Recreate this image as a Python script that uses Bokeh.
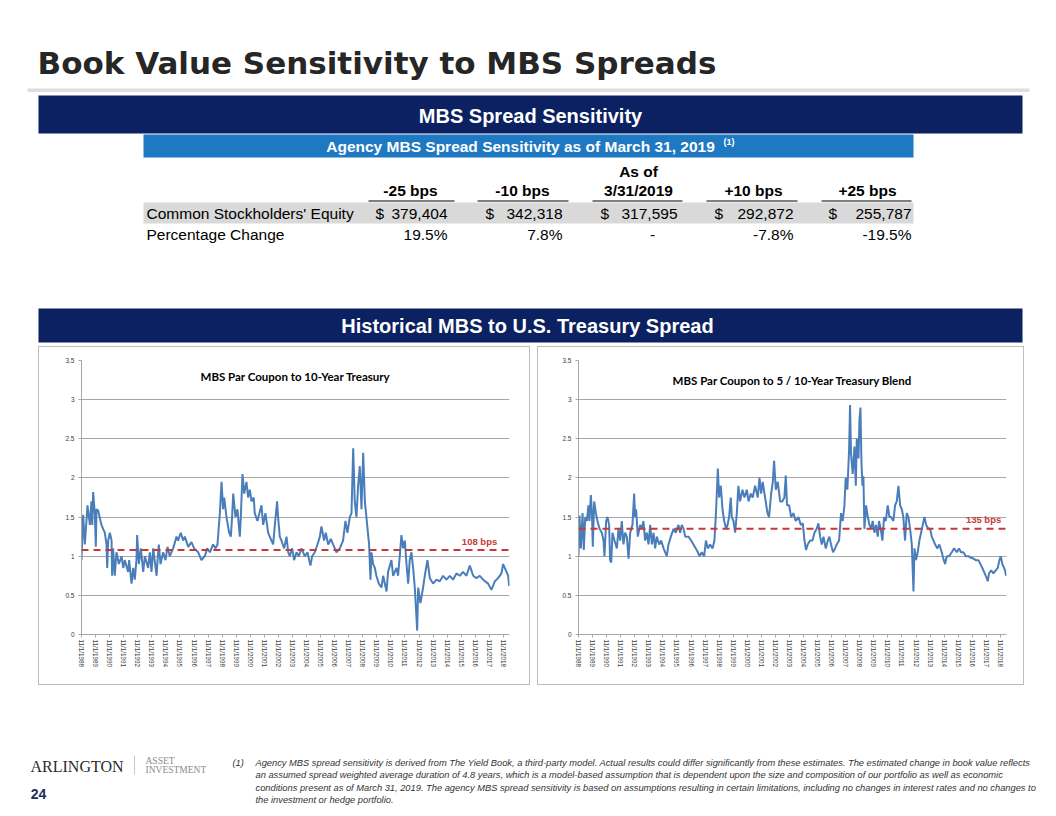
from bokeh.plotting import figure
from bokeh.layouts import column, row
from bokeh.models import Spacer, Range1d, FixedTicker, NumeralTickFormatter, Span
from bokeh.core.properties import value
from bokeh.embed import file_html
from bokeh.resources import INLINE

# ---------------- data ----------------
scenarios = ["-25 bps", "-10 bps", "3/31/2019", "+10 bps", "+25 bps"]
equity = [379404, 342318, 317595, 292872, 255787]
pct_change = [19.5, 7.8, None, -7.8, -19.5]

tick_years = list(range(1988, 2019))
tick_labels = ["11/1/1988", "11/1/1989", "11/1/1990", "11/1/1991", "11/1/1992", "11/1/1993",
               "11/1/1994", "11/1/1995", "11/1/1996", "11/1/1997", "11/1/1998", "11/1/1999",
               "11/1/2000", "11/1/2001", "11/1/2002", "11/1/2003", "11/1/2004", "11/1/2005",
               "11/1/2006", "11/1/2007", "11/1/2008", "11/1/2009", "11/1/2010", "11/1/2011",
               "11/1/2012", "11/1/2013", "11/1/2014", "11/1/2015", "11/1/2016", "11/1/2017",
               "11/1/2018"]
y_ticks = [0, 0.5, 1, 1.5, 2, 2.5, 3, 3.5]

# MBS par coupon to 10-year Treasury (date as decimal year, spread in %)
t10_dates = [1988.83, 1988.95, 1989.07, 1989.26, 1989.43, 1989.54, 1989.60, 1989.66, 1989.78, 1989.85,
             1989.90, 1990.02, 1990.25, 1990.37, 1990.49, 1990.61, 1990.66, 1990.73, 1990.85, 1990.97,
             1991.01, 1991.08, 1991.20, 1991.32, 1991.49, 1991.68, 1991.80, 1991.91, 1992.15, 1992.22,
             1992.39, 1992.51, 1992.62, 1992.74, 1992.79, 1992.91, 1993.05, 1993.22, 1993.34, 1993.57,
             1993.69, 1993.81, 1993.93, 1994.17, 1994.24, 1994.33, 1994.45, 1994.64, 1994.80, 1994.95,
             1995.11, 1995.23, 1995.35, 1995.59, 1995.70, 1995.89, 1996.06, 1996.18, 1996.42, 1996.65,
             1996.84, 1997.13, 1997.36, 1997.60, 1997.77, 1997.96, 1998.19, 1998.36, 1998.50, 1998.67,
             1998.79, 1998.90, 1998.98, 1999.14, 1999.33, 1999.45, 1999.54, 1999.62, 1999.78, 1999.92,
             2000.09, 2000.16, 2000.28, 2000.40, 2000.56, 2000.68, 2000.80, 2000.92, 2001.08, 2001.15,
             2001.34, 2001.63, 2001.75, 2001.91, 2002.10, 2002.34, 2002.46, 2002.58, 2002.74, 2002.81,
             2002.93, 2003.05, 2003.24, 2003.41, 2003.53, 2003.64, 2003.81, 2003.95, 2004.12, 2004.28,
             2004.47, 2004.71, 2004.90, 2005.02, 2005.11, 2005.23, 2005.42, 2005.61, 2005.78, 2005.89,
             2006.08, 2006.20, 2006.37, 2006.56, 2006.72, 2006.96, 2007.20, 2007.43, 2007.60, 2007.74,
             2007.91, 2008.03, 2008.15, 2008.26, 2008.38, 2008.50, 2008.62, 2008.74, 2008.86, 2008.98,
             2009.09, 2009.17, 2009.28, 2009.38, 2009.45, 2009.57, 2009.69, 2009.80, 2009.97, 2010.16,
             2010.28, 2010.52, 2010.63, 2010.87, 2010.99, 2011.23, 2011.34, 2011.46, 2011.58, 2011.70,
             2011.82, 2011.94, 2012.06, 2012.17, 2012.29, 2012.41, 2012.53, 2012.70, 2012.77, 2012.93,
             2013.12, 2013.24, 2013.43, 2013.60, 2013.83, 2014.07, 2014.31, 2014.54, 2014.78, 2015.02,
             2015.25, 2015.49, 2015.73, 2015.96, 2016.20, 2016.44, 2016.68, 2016.91, 2017.15, 2017.39,
             2017.74, 2017.98, 2018.22, 2018.45, 2018.69, 2018.81, 2019.05, 2019.17, 2019.24]
t10_spread = [0.95, 1.53, 1.15, 1.65, 1.40, 1.70, 1.40, 1.82, 1.55, 1.12,
              1.60, 1.58, 1.40, 1.35, 1.30, 1.15, 0.85, 1.20, 1.30, 1.20,
              0.75, 1.10, 0.75, 1.05, 0.90, 1.00, 0.85, 0.95, 0.80, 0.95,
              0.65, 0.85, 0.70, 0.95, 1.27, 0.90, 1.10, 0.80, 1.00, 0.85,
              1.05, 0.80, 1.10, 0.75, 0.95, 1.15, 0.90, 1.05, 0.95, 1.12,
              1.00, 1.05, 1.10, 1.25, 1.20, 1.30, 1.20, 1.25, 1.12, 1.18,
              1.10, 1.05, 0.95, 1.00, 1.10, 1.05, 1.15, 1.10, 1.15, 1.55,
              1.95, 1.60, 1.75, 1.50, 1.30, 1.25, 1.50, 1.80, 1.50, 1.60,
              1.25, 1.50, 2.05, 1.80, 1.95, 1.75, 1.85, 1.70, 1.75, 1.55,
              1.45, 1.65, 1.40, 1.55, 1.30, 1.20, 1.15, 1.40, 1.70, 1.50,
              1.25, 1.20, 1.10, 1.25, 1.05, 1.00, 1.10, 0.95, 1.05, 1.00,
              1.10, 1.00, 1.05, 0.95, 0.88, 1.00, 1.05, 1.15, 1.25, 1.38,
              1.20, 1.30, 1.15, 1.22, 1.15, 1.05, 1.10, 1.20, 1.45, 1.30,
              1.50, 1.55, 2.38, 1.70, 1.50, 1.90, 2.15, 1.60, 2.32, 1.70,
              1.50, 1.35, 1.15, 0.70, 1.05, 0.90, 0.85, 0.75, 0.65, 0.60,
              0.75, 0.55, 0.80, 0.95, 0.75, 0.85, 0.75, 1.00, 1.27, 1.10,
              1.20, 0.90, 0.65, 0.95, 1.05, 0.85, 0.60, 0.05, 0.60, 0.40,
              0.60, 0.75, 0.95, 0.72, 0.65, 0.70, 0.68, 0.75, 0.70, 0.75,
              0.70, 0.78, 0.75, 0.80, 0.75, 0.88, 0.75, 0.72, 0.75, 0.70,
              0.65, 0.57, 0.68, 0.72, 0.78, 0.90, 0.80, 0.75, 0.62]

# MBS par coupon to 5 / 10-year Treasury blend
blend_dates = [1988.83, 1988.90, 1989.00, 1989.12, 1989.21, 1989.31, 1989.43, 1989.54, 1989.61, 1989.71,
               1989.78, 1989.85, 1989.95, 1990.07, 1990.18, 1990.33, 1990.49, 1990.61, 1990.68, 1990.80,
               1990.89, 1991.01, 1991.08, 1991.16, 1991.25, 1991.39, 1991.56, 1991.68, 1991.80, 1991.91,
               1992.03, 1992.15, 1992.27, 1992.39, 1992.51, 1992.67, 1992.79, 1992.86, 1992.93, 1993.05,
               1993.22, 1993.34, 1993.45, 1993.57, 1993.69, 1993.81, 1993.93, 1994.05, 1994.17, 1994.28,
               1994.40, 1994.57, 1994.71, 1994.88, 1995.11, 1995.23, 1995.40, 1995.59, 1995.75, 1995.94,
               1996.06, 1996.18, 1996.30, 1996.42, 1996.65, 1996.84, 1997.01, 1997.17, 1997.32, 1997.43,
               1997.60, 1997.77, 1997.89, 1998.03, 1998.19, 1998.36, 1998.50, 1998.62, 1998.74, 1998.83,
               1998.95, 1999.07, 1999.19, 1999.33, 1999.43, 1999.54, 1999.66, 1999.73, 1999.85, 1999.97,
               2000.09, 2000.20, 2000.32, 2000.49, 2000.63, 2000.80, 2000.92, 2001.08, 2001.22, 2001.39,
               2001.58, 2001.70, 2001.82, 2001.93, 2002.10, 2002.27, 2002.38, 2002.53, 2002.65, 2002.74,
               2002.86, 2003.00, 2003.17, 2003.33, 2003.47, 2003.57, 2003.66, 2003.81, 2003.95, 2004.11,
               2004.28, 2004.47, 2004.64, 2004.78, 2004.90, 2005.01, 2005.13, 2005.30, 2005.47, 2005.61,
               2005.77, 2005.89, 2006.01, 2006.13, 2006.25, 2006.41, 2006.56, 2006.67, 2006.79, 2006.93,
               2007.08, 2007.19, 2007.36, 2007.50, 2007.62, 2007.74, 2007.83, 2007.95, 2008.07, 2008.14,
               2008.21, 2008.33, 2008.45, 2008.55, 2008.62, 2008.74, 2008.81, 2008.88, 2008.95, 2009.02,
               2009.09, 2009.16, 2009.28, 2009.40, 2009.52, 2009.64, 2009.75, 2009.87, 2009.99, 2010.11,
               2010.20, 2010.32, 2010.44, 2010.56, 2010.68, 2010.82, 2010.94, 2011.06, 2011.22, 2011.34,
               2011.46, 2011.58, 2011.70, 2011.82, 2011.93, 2012.05, 2012.17, 2012.29, 2012.41, 2012.53,
               2012.65, 2012.72, 2012.83, 2012.95, 2013.07, 2013.19, 2013.31, 2013.43, 2013.55, 2013.71,
               2013.83, 2013.95, 2014.07, 2014.19, 2014.35, 2014.49, 2014.66, 2014.80, 2014.90, 2015.01,
               2015.18, 2015.37, 2015.54, 2015.73, 2015.89, 2016.03, 2016.20, 2016.37, 2016.56, 2016.74,
               2016.91, 2017.08, 2017.27, 2017.46, 2017.62, 2017.79, 2017.93, 2018.02, 2018.17, 2018.33,
               2018.50, 2018.64, 2018.76, 2018.85, 2018.97, 2019.09, 2019.16, 2019.23]
blend_spread = [1.00, 1.52, 1.10, 1.55, 1.08, 1.50, 1.45, 1.65, 1.45, 1.78,
                1.60, 1.12, 1.70, 1.55, 1.45, 1.35, 1.30, 1.20, 1.00, 1.45,
                1.50, 1.40, 0.95, 0.92, 1.30, 1.20, 1.10, 1.35, 1.20, 1.45,
                1.15, 1.30, 1.25, 0.97, 1.30, 1.40, 1.80, 1.50, 1.60, 1.25,
                1.40, 1.35, 1.45, 1.20, 1.30, 1.15, 1.40, 1.15, 1.30, 1.10,
                1.25, 1.15, 1.20, 1.10, 1.00, 1.15, 1.25, 1.35, 1.30, 1.40,
                1.30, 1.40, 1.35, 1.25, 1.25, 1.20, 1.15, 1.10, 1.05, 1.00,
                1.05, 1.00, 1.20, 1.10, 1.15, 1.10, 1.20, 1.60, 2.12, 1.75,
                1.90, 1.60, 1.45, 1.35, 1.40, 1.50, 1.75, 1.50, 1.45, 1.30,
                1.55, 1.90, 1.70, 1.85, 1.75, 1.85, 1.70, 1.80, 1.75, 1.90,
                1.75, 2.00, 1.80, 1.95, 1.75, 1.55, 1.50, 1.80, 1.95, 2.22,
                1.85, 1.95, 1.70, 1.70, 1.75, 2.03, 1.65, 1.65, 1.50, 1.55,
                1.45, 1.50, 1.40, 1.42, 1.20, 1.08, 1.15, 1.20, 1.20, 1.30,
                1.35, 1.42, 1.25, 1.15, 1.25, 1.10, 1.20, 1.25, 1.15, 1.05,
                1.10, 1.15, 1.20, 1.55, 1.45, 1.65, 2.00, 1.85, 2.35, 2.93,
                2.30, 2.05, 2.40, 1.90, 2.50, 2.25, 2.75, 2.90, 2.20, 1.90,
                2.02, 1.35, 1.65, 1.50, 1.40, 1.35, 1.45, 1.30, 1.40, 1.25,
                1.45, 1.35, 1.20, 1.50, 1.45, 1.65, 1.50, 1.50, 1.45, 1.65,
                1.70, 1.90, 1.65, 1.60, 1.50, 1.20, 1.55, 1.50, 1.35, 1.15,
                0.55, 1.10, 0.95, 1.05, 1.20, 1.30, 1.40, 1.50, 1.40, 1.35,
                1.35, 1.25, 1.20, 1.15, 1.10, 1.15, 1.05, 0.95, 0.90, 1.00,
                1.00, 1.05, 1.10, 1.05, 1.10, 1.05, 1.05, 1.00, 1.00, 0.98,
                0.97, 0.95, 0.95, 0.88, 0.82, 0.75, 0.68, 0.78, 0.82, 0.78,
                0.82, 0.85, 0.95, 1.00, 0.90, 0.85, 0.82, 0.75]

average_bps = [108, 135]
chart_titles = ["MBS Par Coupon to 10-Year Treasury", "MBS Par Coupon to 5 / 10-Year Treasury Blend"]

footnote_lines = [
    "Agency MBS spread sensitivity is derived from  The Yield Book, a third-party model.  Actual results could differ significantly from these estimates.  The estimated change in book value reflects",
    "an assumed  spread  weighted average  duration of 4.8 years, which is a model-based  assumption  that is dependent  upon the size and composition  of our portfolio as well as economic",
    "conditions present as of March 31, 2019.  The agency MBS spread  sensitivity is based on assumptions  resulting in certain limitations,  including no changes in interest rates and no changes to",
    "the investment or hedge portfolio.",
]

# ---------------- style ----------------
W = 1056
SANS = value("Liberation Sans")
WIDE = value("DejaVu Sans")
SERIF = value("Liberation Serif")
CAL = value("Lato")
NAVY = "#0B2161"
BLUE = "#1E78C2"
LINE_BLUE = "#4A7EBB"
RED = "#C8373A"
GRID = "#A6A6A6"


def deco(height, y0):
    p = figure(width=W, height=height, x_range=Range1d(0, W), y_range=Range1d(y0 + height, y0),
               x_axis_location=None, y_axis_location=None, toolbar_location=None,
               output_backend="svg", min_border=0, outline_line_color=None)
    p.min_border_left = p.min_border_right = p.min_border_top = p.min_border_bottom = 0
    p.grid.visible = False
    p.background_fill_color = "white"
    p.border_fill_color = "white"
    return p


# ---------------- top part of slide ----------------
top = deco(346, 0)
top.text(x=[37], y=[62], text=["Book Value Sensitivity to MBS Spreads"], text_font=WIDE,
         text_font_size="31px", text_font_style="bold", text_color="#262626",
         text_baseline="middle", text_align="left")
top.quad(left=[27], right=[1029], top=[88], bottom=[91.5], fill_color="#DEDEDE", line_color=None)
top.quad(left=[38], right=[1022], top=[95], bottom=[133], fill_color=NAVY, line_color=None)
top.text(x=[530], y=[115], text=["MBS Spread Sensitivity"], text_font=SANS, text_font_size="20px",
         text_font_style="bold", text_color="white", text_baseline="middle", text_align="center")
top.quad(left=[143], right=[913], top=[134], bottom=[157], fill_color=BLUE, line_color=None)
top.text(x=[520], y=[146], text=["Agency MBS Spread Sensitivity as of March 31, 2019"], text_font=SANS,
         text_font_size="15.5px", text_font_style="bold", text_color="white",
         text_baseline="middle", text_align="center")
top.text(x=[723], y=[141], text=["(1)"], text_font=SANS, text_font_size="9px", text_font_style="bold",
         text_color="white", text_baseline="middle", text_align="left")

col_centers = [410, 522, 638, 753, 867]
col_left = [368, 477, 592, 706, 821]
col_right = [454, 568, 682, 797, 911]
num_right = [447, 562, 677, 793, 911]
dollar_x = [375, 485, 600, 714, 828]

# column headers
top.text(x=[col_centers[2]], y=[171], text=["As of"], text_font=SANS, text_font_size="15.5px",
         text_font_style="bold", text_color="black", text_baseline="middle", text_align="center")
top.text(x=col_centers, y=[190] * 5, text=scenarios, text_font=SANS, text_font_size="15.5px",
         text_font_style="bold", text_color="black", text_baseline="middle", text_align="center")
top.segment(x0=col_left, x1=col_right, y0=[200.5] * 5, y1=[200.5] * 5, line_color="black", line_width=1)

# equity row
top.quad(left=[143], right=[913], top=[202], bottom=[223], fill_color="#D9D9D9", line_color=None)
top.text(x=[146], y=[213], text=["Common Stockholders' Equity"], text_font=SANS, text_font_size="15.5px",
         text_color="black", text_baseline="middle", text_align="left")
top.text(x=dollar_x, y=[213] * 5, text=["$"] * 5, text_font=SANS, text_font_size="15.5px",
         text_color="black", text_baseline="middle", text_align="left")
top.text(x=num_right, y=[213] * 5, text=[f"{v:,}" for v in equity], text_font=SANS,
         text_font_size="15.5px", text_color="black", text_baseline="middle", text_align="right")

# percentage row
top.text(x=[146], y=[234], text=["Percentage Change"], text_font=SANS, text_font_size="15.5px",
         text_color="black", text_baseline="middle", text_align="left")
pct_x = [num_right[i] if v is not None else 652 for i, v in enumerate(pct_change)]
pct_txt = [f"{v:.1f}%" if v is not None else "-" for v in pct_change]
pct_align = ["right" if v is not None else "center" for v in pct_change]
top.text(x=pct_x, y=[234] * 5, text=pct_txt, text_font=SANS, text_font_size="15.5px",
         text_color="black", text_baseline="middle", text_align=pct_align)

# second banner
top.quad(left=[38], right=[1022], top=[308], bottom=[342], fill_color=NAVY, line_color=None)
top.text(x=[527], y=[325], text=["Historical MBS to U.S. Treasury Spread"], text_font=SANS,
         text_font_size="20px", text_font_style="bold", text_color="white",
         text_baseline="middle", text_align="center")


# ---------------- charts ----------------
X0, X1 = 1988.0, 2018.43   # axis: first category 11/1/1988 ... end of data (Mar 2019)


def chart(width, bl, br, dates, spreads, title, title_y, bps, lab_x, lab_y):
    p = figure(width=width, height=339, x_range=Range1d(X0, X1), y_range=Range1d(0, 3.5),
               toolbar_location=None, output_backend="svg", outline_line_color=None,
               min_border_left=bl, min_border_right=br, min_border_top=13, min_border_bottom=52,
               styles={"border": "1px solid #BDBDBD", "box-sizing": "border-box"})
    p.background_fill_color = "white"
    p.border_fill_color = "white"
    p.xgrid.visible = False
    p.ygrid.grid_line_color = GRID
    p.ygrid.grid_line_width = 1
    p.ygrid.ticker = FixedTicker(ticks=y_ticks)

    p.yaxis.ticker = FixedTicker(ticks=y_ticks)
    p.yaxis.formatter = NumeralTickFormatter(format="0.[0]")
    p.yaxis.major_label_text_font = "Liberation Sans"
    p.yaxis.major_label_text_font_size = "6.5px"
    p.yaxis.major_label_text_color = "#404040"
    p.yaxis.axis_line_color = GRID
    p.yaxis.major_tick_line_color = GRID
    p.yaxis.major_tick_out = 3
    p.yaxis.major_tick_in = 0
    p.yaxis.minor_tick_line_color = None
    p.yaxis.major_label_standoff = 4

    p.xaxis.ticker = FixedTicker(ticks=tick_years)
    p.xaxis.major_label_overrides = {y: lab for y, lab in zip(tick_years, tick_labels)}
    p.xaxis.major_label_orientation = "vertical"
    p.xaxis.major_label_text_font = "Liberation Sans"
    p.xaxis.major_label_text_font_size = "6.3px"
    p.xaxis.major_label_text_color = "#404040"
    p.xaxis.axis_line_color = GRID
    p.xaxis.major_tick_line_color = GRID
    p.xaxis.major_tick_out = 3
    p.xaxis.major_tick_in = 0
    p.xaxis.minor_tick_line_color = None
    p.xaxis.major_label_standoff = 2

    # categories are dated 11/1 of each year: shift so that 11/1/YYYY falls on YYYY
    xs = [d - 10 / 12 for d in dates]
    p.line(xs, spreads, line_color=LINE_BLUE, line_width=2)

    avg = bps / 100
    p.add_layout(Span(location=avg, dimension="width", line_color=RED, line_width=2, line_dash="7 5"))
    p.text(x=[lab_x], y=[lab_y], text=[f"{bps} bps"], text_font=SANS, text_font_size="9.5px",
           text_font_style="bold", text_color=RED, text_baseline="middle", text_align="center")
    p.text(x=[(X0 + X1) / 2], y=[title_y], text=[title], text_font=CAL, text_font_size="11.5px",
           text_font_style="bold", text_color="black", text_baseline="middle", text_align="center")
    return p


c1 = chart(492, 42, 22, t10_dates, t10_spread, chart_titles[0], 3.30, average_bps[0], 2016.3, 1.19)
c2 = chart(487, 40, 19, blend_dates, blend_spread, chart_titles[1], 3.25, average_bps[1], 2016.8, 1.47)

# ---------------- footer ----------------
bottom = deco(131, 685)
bottom.text(x=[30], y=[766], text=["ARLINGTON"], text_font=SERIF, text_font_size="16px",
            text_color="#2B2B2B", text_baseline="middle", text_align="left")
bottom.segment(x0=[134], x1=[134], y0=[755], y1=[774], line_color="#C8C8C8", line_width=1)
bottom.text(x=[145, 145], y=[760, 769], text=["ASSET", "INVESTMENT"], text_font=SERIF,
            text_font_size="9.5px", text_color="#8C8C8C", text_baseline="middle", text_align="left")
bottom.text(x=[38], y=[793], text=["24"], text_font=SANS, text_font_size="14px", text_font_style="bold",
            text_color="#1F2A5C", text_baseline="middle", text_align="center")
bottom.text(x=[232], y=[762], text=["(1)"], text_font=SANS, text_font_size="9.3px",
            text_font_style="italic", text_color="#333333", text_baseline="middle", text_align="left")
bottom.text(x=[255] * 4, y=[762, 774.5, 787, 799.5], text=footnote_lines, text_font=SANS,
            text_font_size="9.3px", text_font_style="italic", text_color="#333333",
            text_baseline="middle", text_align="left")

layout = column(
    top,
    row(Spacer(width=38, height=339), c1, Spacer(width=7, height=339), c2, Spacer(width=32, height=339)),
    bottom,
)

open("out.html", "w").write(file_html(layout, INLINE))
